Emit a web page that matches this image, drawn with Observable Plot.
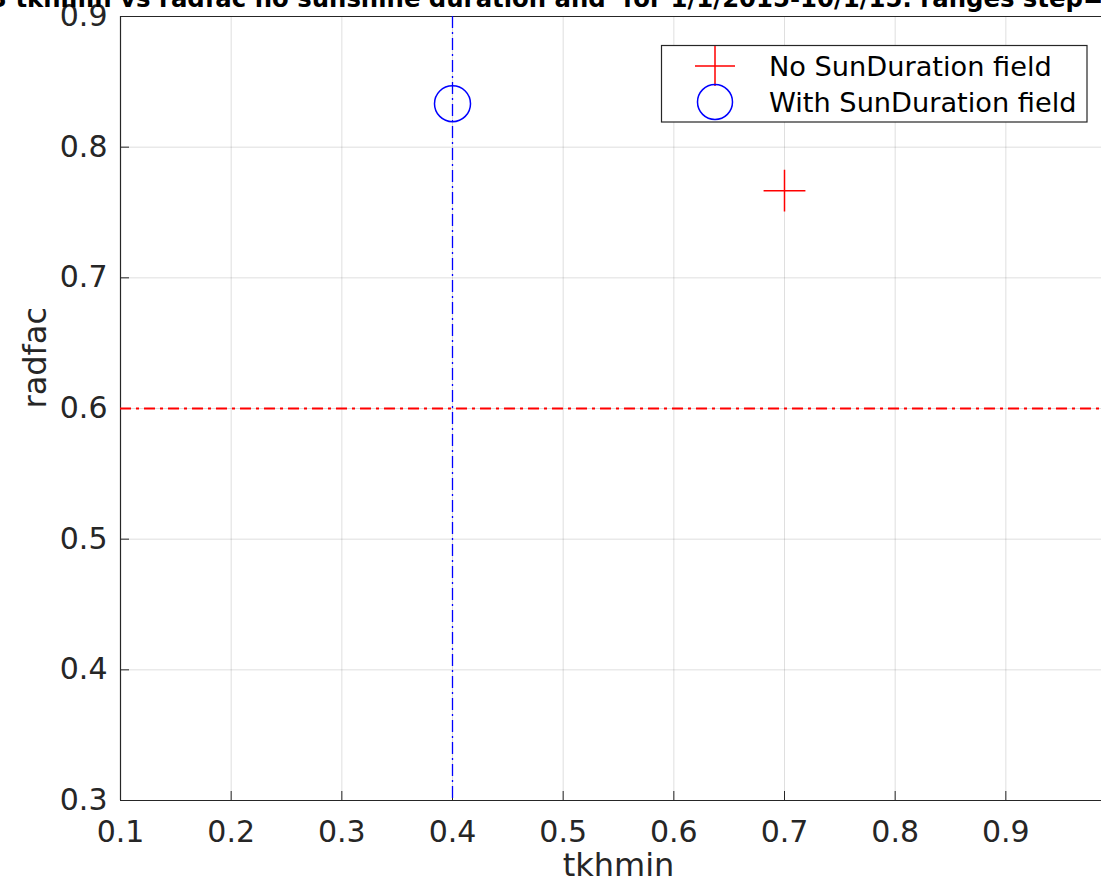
<!DOCTYPE html>
<html>
<head>
<meta charset="utf-8">
<script src="https://cdn.jsdelivr.net/npm/d3@7"></script>
<script src="https://cdn.jsdelivr.net/npm/@observablehq/plot@0.6"></script>
<style>
  html, body { margin: 0; padding: 0; background: #fff; overflow: hidden; }
  #chart svg { display: block; max-width: none !important; }
</style>
</head>
<body>
<div id="chart"></div>
<script>
// Calibration results: tkhmin vs radfac
const noSunTkhmin = [0.7];
const noSunRadfac = [0.7667];
const withSunTkhmin = [0.4];
const withSunRadfac = [0.8333];
// Chosen reference settings (dash-dot guide lines)
const refTkhmin = [0.4];
const refRadfac = [0.6];
// Axis ticks
const xTicks = [0.1, 0.2, 0.3, 0.4, 0.5, 0.6, 0.7, 0.8, 0.9];
const yTicks = [0.3, 0.4, 0.5, 0.6, 0.7, 0.8, 0.9];
const xDomain = [0.1, 1.0];
const yDomain = [0.3, 0.9];
const titleText = "3 tkhmin vs radfac no sunshine duration and  for 1/1/2015-10/1/15. ranges step=";
const legendLabels = ["No SunDuration field", "With SunDuration field"];

const ink = "#262626";
const font = "DejaVu Sans";

const noSun = noSunTkhmin.map((x, i) => ({tkhmin: x, radfac: noSunRadfac[i]}));
const withSun = withSunTkhmin.map((x, i) => ({tkhmin: x, radfac: withSunRadfac[i]}));

const chart = Plot.plot({
  width: 1116,
  height: 893,
  marginLeft: 120,
  marginRight: 0,
  marginTop: 16,
  marginBottom: 93,
  style: {fontFamily: font, color: ink, background: "#fff", overflow: "visible", maxWidth: "none"},
  x: {domain: xDomain, label: null},
  y: {domain: yDomain, label: null},
  marks: [
    Plot.gridX(xTicks, {stroke: ink, strokeOpacity: 0.15, strokeWidth: 1}),
    Plot.gridY(yTicks, {stroke: ink, strokeOpacity: 0.15, strokeWidth: 1}),
    // axis box lines (left, bottom, top)
    Plot.ruleX([xDomain[0]], {stroke: ink, strokeWidth: 1.2}),
    Plot.ruleY([yDomain[0], yDomain[1]], {stroke: ink, strokeWidth: 1.2}),
    // inward tick marks
    Plot.axisX(xTicks, {tickSize: 9, dy: -9, tickFormat: () => "", stroke: ink, label: null}),
    Plot.axisY(yTicks, {tickSize: 9, dx: 9, tickFormat: () => "", stroke: ink, label: null}),
    // tick labels
    Plot.axisX(xTicks, {tickSize: 0, tickPadding: 20, fontSize: 30, fill: ink, tickFormat: d3.format(".1f"), label: null}),
    Plot.axisY(yTicks, {tickSize: 0, tickPadding: 13, fontSize: 30, fill: ink, tickFormat: d3.format(".1f"), label: null}),
    // guide lines
    Plot.ruleX(refTkhmin, {stroke: "#0000ff", strokeWidth: 1.3, strokeDasharray: "12,4,2,4"}),
    Plot.ruleY(refRadfac, {stroke: "#ff0000", strokeWidth: 2, strokeDasharray: "11,5,3,5"}),
    // data points
    Plot.dot(noSun, {x: "tkhmin", y: "radfac", symbol: "plus", r: 13.5, stroke: "#ff0000", strokeWidth: 1.5}),
    Plot.dot(withSun, {x: "tkhmin", y: "radfac", symbol: "circle", r: 18, stroke: "#0000ff", strokeWidth: 1.5}),
    // axis titles
    Plot.text(["tkhmin"], {frameAnchor: "bottom", dy: 75, fontSize: 32, fill: ink}),
    Plot.text(["radfac"], {frameAnchor: "left", dx: -85, rotate: -90, fontSize: 32, fill: ink})
  ]
});

document.getElementById("chart").appendChild(chart);

const svg = d3.select(chart);

// Title (bold, partly above the page top)
const title = svg.append("text")
  .attr("x", -10)
  .attr("y", 7)
  .attr("text-anchor", "start")
  .attr("font-family", font)
  .attr("font-weight", "bold")
  .attr("font-size", 24)
  .attr("fill", "#000")
  .text(titleText);
const targetWidth = 1114;
const len = title.node().getComputedTextLength();
title.attr("font-size", 24 * targetWidth / len);

// Legend
const legend = svg.append("g").attr("font-family", font).attr("text-anchor", "start");
legend.append("rect")
  .attr("x", 661.5).attr("y", 45.5)
  .attr("width", 425.5).attr("height", 76.5)
  .attr("fill", "#fff").attr("stroke", ink).attr("stroke-width", 1.2);
legend.append("path")
  .attr("d", "M695,66H735M715,46V86")
  .attr("stroke", "#ff0000").attr("stroke-width", 1.5).attr("fill", "none");
legend.append("circle")
  .attr("cx", 715).attr("cy", 102).attr("r", 17.5)
  .attr("stroke", "#0000ff").attr("stroke-width", 1.5).attr("fill", "none");
legend.selectAll("text.lbl")
  .data(legendLabels)
  .join("text")
  .attr("class", "lbl")
  .attr("x", 769)
  .attr("y", (d, i) => 76 + i * 36)
  .attr("font-size", 27.2)
  .attr("fill", "#000")
  .text(d => d);
</script>
</body>
</html>
